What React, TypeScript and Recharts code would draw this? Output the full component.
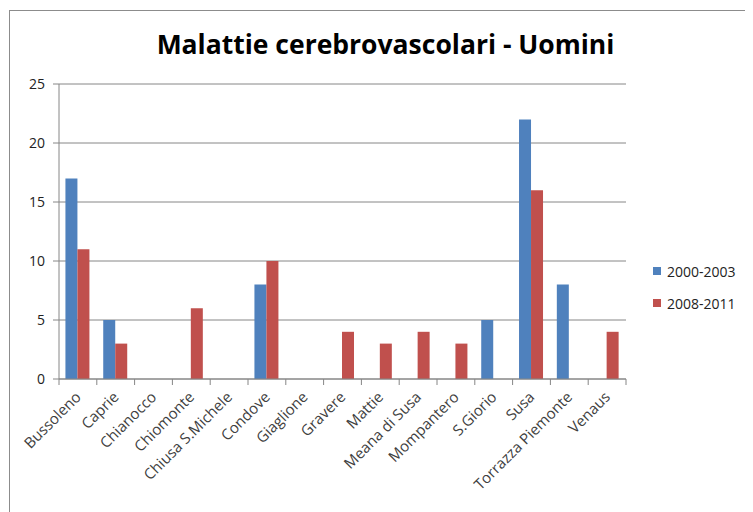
import React from 'react';
import { BarChart, Bar, XAxis, YAxis, CartesianGrid, Legend } from 'recharts';

const categories = [
  'Bussoleno', 'Caprie', 'Chianocco', 'Chiomonte', 'Chiusa S.Michele', 'Condove', 'Giaglione',
  'Gravere', 'Mattie', 'Meana di Susa', 'Mompantero', 'S.Giorio', 'Susa', 'Torrazza Piemonte', 'Venaus',
];
const series2000 = [17, 5, 0, 0, 0, 8, 0, 0, 0, 0, 0, 5, 22, 8, 0];
const series2008 = [11, 3, 0, 6, 0, 10, 0, 4, 3, 4, 3, 0, 16, 0, 4];
const yTicks = [0, 5, 10, 15, 20, 25];
const seriesNames = ['2000-2003', '2008-2011'];
const colors = ['#4F81BD', '#C0504D'];

const data = categories.map((c, i) => ({ name: c, a: series2000[i], b: series2008[i] }));

const FONT = '"Open Sans", "Noto Sans", sans-serif';
const AXIS = '#868686';

const XTick = (props: any) => {
  const { x, y, payload, index } = props;
  const half = payload && payload.offset ? payload.offset : 18.9;
  const last = index === categories.length - 1;
  return (
    <g>
      <line x1={x - half} x2={x - half} y1={y - 8} y2={y - 2} stroke={AXIS} />
      {last && <line x1={x + half} x2={x + half} y1={y - 8} y2={y - 2} stroke={AXIS} />}
      <text
        x={x + 4}
        y={y + 11}
        transform={`rotate(-45, ${x + 4}, ${y + 11})`}
        textAnchor="end"
        fontSize={15}
        fontFamily={FONT}
        fill="#404040"
      >
        {payload.value}
      </text>
    </g>
  );
};

const LegendContent = () => (
  <div style={{ fontFamily: FONT, fontSize: 14, color: '#222' }}>
    {seriesNames.map((n, i) => (
      <div key={n} style={{ display: 'flex', alignItems: 'center', height: 32 }}>
        <div style={{ width: 8, height: 8, background: colors[i], marginRight: 6 }} />
        <span>{n}</span>
      </div>
    ))}
  </div>
);

export default function App() {
  return (
    <div style={{ position: 'relative', width: 745, height: 504, background: '#fff' }}>
      <div
        style={{
          position: 'absolute',
          left: 1,
          top: 2,
          width: 760,
          height: 520,
          borderLeft: '1px solid #8c8c8c',
          borderTop: '1px solid #8c8c8c',
          pointerEvents: 'none',
        }}
      />
      <div
        style={{
          position: 'absolute',
          left: 0,
          top: 18,
          width: 755,
          textAlign: 'center',
          fontFamily: FONT,
          fontWeight: 700,
          fontSize: 26.5,
          color: '#000',
        }}
      >
        Malattie cerebrovascolari - Uomini
      </div>
      <BarChart
        width={745}
        height={504}
        data={data}
        margin={{ top: 76, right: 27, left: 0, bottom: 13 }}
        barCategoryGap="17%"
        barGap={0}
      >
        <CartesianGrid vertical={false} stroke={AXIS} strokeWidth={1} />
        <XAxis
          dataKey="name"
          interval={0}
          height={120}
          tickLine={false}
          axisLine={{ stroke: AXIS }}
          tick={<XTick />}
        />
        <YAxis
          width={51}
          domain={[0, 25]}
          ticks={yTicks}
          interval={0}
          tickSize={6}
          tickMargin={8}
          axisLine={{ stroke: AXIS }}
          tickLine={{ stroke: AXIS }}
          tick={{ fontSize: 14, fontFamily: FONT, fill: '#222' }}
        />
        <Legend
          layout="vertical"
          align="right"
          verticalAlign="top"
          content={<LegendContent />}
          wrapperStyle={{ position: 'absolute', left: 645, top: 247, width: 100 }}
        />
        <Bar dataKey="a" name={seriesNames[0]} fill={colors[0]} isAnimationActive={false} />
        <Bar dataKey="b" name={seriesNames[1]} fill={colors[1]} isAnimationActive={false} />
      </BarChart>
    </div>
  );
}
